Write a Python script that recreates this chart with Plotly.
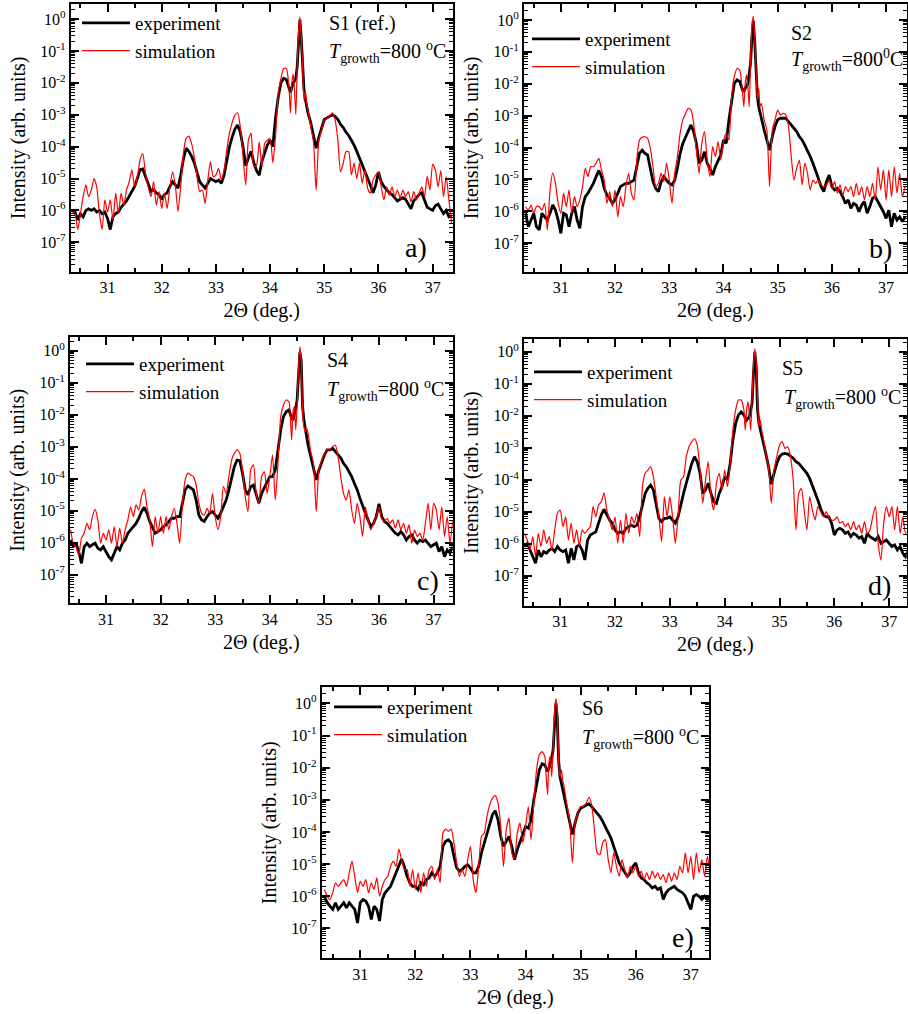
import plotly.graph_objects as go

# 2-theta grid (deg.), shared by all panels
X = [30.35, 30.40, 30.45, 30.50, 30.55, 30.60, 30.65, 30.70, 30.75, 30.80,
     30.85, 30.90, 30.95, 31.00, 31.05, 31.10, 31.15, 31.20, 31.25, 31.30,
     31.35, 31.40, 31.45, 31.50, 31.55, 31.60, 31.65, 31.70, 31.75, 31.80,
     31.85, 31.90, 31.95, 32.00, 32.05, 32.10, 32.15, 32.20, 32.25, 32.30,
     32.35, 32.40, 32.45, 32.50, 32.55, 32.60, 32.65, 32.70, 32.75, 32.80,
     32.85, 32.90, 32.95, 33.00, 33.05, 33.10, 33.15, 33.20, 33.25, 33.30,
     33.35, 33.40, 33.45, 33.50, 33.55, 33.60, 33.65, 33.70, 33.75, 33.80,
     33.85, 33.90, 33.95, 34.00, 34.05, 34.10, 34.15, 34.20, 34.25, 34.30,
     34.35, 34.375, 34.40, 34.425, 34.45, 34.475, 34.50, 34.525, 34.55, 34.575, 34.60, 34.625, 34.65, 34.675,
     34.70, 34.75, 34.80, 34.85, 34.90, 34.95, 35.00, 35.05, 35.10, 35.15,
     35.20, 35.25, 35.30, 35.35, 35.40, 35.45, 35.50, 35.55, 35.60, 35.65,
     35.70, 35.75, 35.80, 35.85, 35.90, 35.95, 36.00, 36.05, 36.10, 36.15,
     36.20, 36.25, 36.30, 36.35, 36.40, 36.45, 36.50, 36.55, 36.60, 36.65,
     36.70, 36.75, 36.80, 36.85, 36.90, 36.95, 37.00, 37.05, 37.10, 37.15,
     37.20, 37.25, 37.30, 37.35]

# log10(intensity)
S1_EXP = [-6.0, -6.05, -6.3, -6.1, -6.2, -6.0, -5.95, -6.0, -5.95, -6.05,
          -6.0, -6.1, -6.05, -6.25, -6.6, -6.2, -6.1, -6.05, -5.9, -5.8,
          -5.7, -5.55, -5.4, -5.25, -5.0, -4.72, -4.7, -4.95, -5.2, -5.4,
          -5.35, -5.45, -5.5, -5.65, -5.5, -5.45, -5.25, -5.1, -5.2, -5.3,
          -4.9, -4.4, -4.05, -4.15, -4.3, -4.5, -4.8, -5.1, -5.2, -5.3,
          -5.15, -5.0, -5.05, -5.1, -5.05, -5.15, -4.9, -4.4, -4.0, -3.7,
          -3.45, -3.32, -3.55, -4.0, -4.6, -4.35, -4.15, -4.5, -4.75, -4.9,
          -4.45, -4.2, -3.95, -3.8, -4.0, -3.1, -2.45, -2.0, -1.86, -1.9,
          -2.2, -2.3, -2.15, -2.0, -1.95, -1.85, -1.5, -0.5, -0.02, -0.6, -1.7, -2.2, -2.5, -2.75,
          -2.95, -3.25, -3.65, -4.05, -3.7, -3.4, -3.15, -3.1, -3.05, -3.0,
          -3.05, -3.15, -3.3, -3.4, -3.55, -3.65, -3.8, -3.95, -4.15, -4.35,
          -4.55, -4.75, -4.95, -5.2, -5.45, -5.2, -4.8, -5.1, -5.25, -5.35,
          -5.45, -5.5, -5.6, -5.7, -5.65, -5.6, -5.65, -5.8, -5.95, -5.7,
          -5.6, -5.5, -5.45, -5.7, -5.9, -5.95, -6.0, -5.85, -5.8, -5.95,
          -6.1, -6.0, -6.2, -6.15]
S1_SIM = [-6.0, -6.1, -6.6, -6.1, -5.57, -5.2, -5.57, -5.36, -5.0, -5.26,
          -6.1, -6.6, -5.67, -6.05, -5.67, -6.3, -5.46, -6.1, -5.46, -5.83,
          -5.36, -5.1, -4.73, -5.26, -4.94, -4.42, -4.21, -4.84, -5.26, -5.57,
          -5.1, -5.83, -5.41, -5.94, -5.46, -5.94, -5.26, -4.79, -5.2, -6.04,
          -5.26, -4.21, -3.74, -3.67, -3.9, -4.32, -4.94, -5.41, -5.36, -5.78,
          -5.05, -4.47, -4.94, -4.89, -4.68, -5.05, -4.73, -4.11, -3.58, -3.25,
          -3.01, -2.94, -3.38, -4.32, -5.2, -3.79, -3.58, -4.63, -4.58, -3.85,
          -4.63, -3.9, -3.79, -3.75, -4.5, -3.7, -2.33, -1.86, -1.55, -1.55,
          -2.17, -2.95, -2.02, -1.72, -2.23, -3.0, -1.5, -0.4, 0.07, -0.55, -1.5, -2.54, -2.25, -2.64,
          -2.85, -3.38, -3.85, -5.36, -3.79, -3.48, -3.19, -3.11, -3.04, -2.94,
          -3.17, -3.79, -4.79, -4.52, -4.16, -4.16, -4.89, -4.52, -5.0, -4.52,
          -5.15, -4.73, -5.31, -5.46, -5.05, -4.89, -4.79, -5.26, -5.67, -5.26,
          -5.52, -5.26, -5.57, -5.36, -5.62, -5.36, -5.57, -5.41, -5.73, -5.41,
          -5.67, -5.46, -5.26, -5.57, -4.92, -5.36, -4.55, -4.73, -5.26, -4.75,
          -5.57, -4.94, -5.67, -6.4]

S2_EXP = [-6.06, -6.48, -6.27, -6.06, -6.48, -6.58, -6.06, -6.17, -6.27, -6.06,
          -5.80, -5.96, -6.27, -6.69, -6.06, -6.11, -6.48, -6.06, -5.85, -6.27,
          -6.53, -5.85, -5.54, -5.43, -5.28, -5.12, -4.91, -4.72, -4.91, -5.28,
          -5.49, -5.59, -5.75, -5.64, -5.43, -5.22, -5.17, -5.12, -5.12, -5.07,
          -5.02, -4.60, -4.18, -4.08, -4.18, -4.23, -4.60, -5.07, -5.28, -5.38,
          -5.07, -4.91, -5.02, -5.12, -5.17, -5.02, -4.65, -4.18, -3.87, -3.66,
          -3.45, -3.29, -3.50, -3.87, -4.49, -4.39, -4.13, -4.49, -4.65, -4.86,
          -4.60, -4.39, -4.23, -3.76, -3.87, -3.13, -2.51, -1.99, -1.88, -1.93,
          -2.19, -2.25, -2.14, -2.09, -1.99, -1.67, -1.36, -0.52, -0.02, -0.63, -1.78, -2.40, -2.72, -2.93,
          -3.13, -3.45, -3.76, -4.08, -3.66, -3.34, -3.13, -3.08, -3.08, -3.08,
          -3.19, -3.29, -3.40, -3.50, -3.66, -3.76, -3.92, -4.08, -4.28, -4.49,
          -4.70, -4.96, -5.22, -5.38, -5.07, -4.86, -5.22, -5.33, -5.28, -5.38,
          -5.54, -5.75, -5.64, -5.90, -5.75, -5.80, -6.01, -5.80, -5.69, -6.06,
          -5.85, -5.59, -5.54, -5.69, -5.85, -6.01, -6.22, -5.96, -6.48, -6.06,
          -6.27, -6.17, -6.32, -6.17]
S2_SIM = [-5.85, -5.96, -5.80, -6.06, -5.85, -5.85, -5.96, -5.75, -6.58, -5.33,
          -4.79, -5.12, -5.75, -6.06, -5.43, -5.85, -5.33, -6.06, -5.54, -5.85,
          -5.64, -5.22, -4.65, -4.91, -4.60, -4.60, -4.49, -4.34, -4.70, -5.02,
          -5.75, -5.38, -5.85, -5.33, -6.17, -5.54, -5.85, -5.22, -4.81, -5.43,
          -5.64, -4.39, -3.76, -3.68, -3.66, -3.71, -4.02, -4.60, -5.22, -5.12,
          -4.81, -5.07, -4.49, -5.02, -5.75, -4.81, -4.28, -3.55, -3.13, -2.93,
          -2.77, -2.82, -3.24, -4.08, -4.81, -3.87, -3.50, -4.39, -4.91, -3.97,
          -4.28, -3.81, -4.39, -3.81, -3.55, -3.76, -2.40, -1.78, -1.52, -1.57,
          -2.25, -2.72, -1.99, -1.72, -2.09, -2.72, -1.25, -0.21, 0.12, -0.52, -1.57, -2.51, -2.14, -2.72,
          -2.61, -3.13, -3.45, -5.22, -3.45, -3.13, -2.82, -2.98, -2.93, -2.98,
          -3.34, -4.28, -5.02, -4.65, -4.39, -5.17, -4.49, -4.81, -5.33, -5.02,
          -5.12, -5.02, -5.17, -5.22, -5.17, -5.02, -5.28, -5.07, -5.43, -5.17,
          -5.49, -5.22, -5.38, -5.22, -5.54, -5.12, -5.49, -5.22, -5.64, -5.22,
          -5.54, -5.12, -5.64, -4.60, -5.33, -4.70, -5.64, -4.70, -5.54, -4.60,
          -5.43, -4.81, -5.54, -5.22]

S4_EXP = [-5.92, -6.13, -6.02, -6.28, -6.65, -6.13, -6.02, -6.13, -6.07, -6.02,
          -6.18, -6.23, -6.13, -6.28, -6.44, -6.54, -6.33, -6.13, -6.23, -6.02,
          -5.92, -5.71, -5.60, -5.50, -5.40, -5.24, -5.03, -4.90, -5.08, -5.34,
          -5.50, -5.71, -5.66, -5.60, -5.50, -5.45, -5.34, -5.24, -5.24, -5.19,
          -5.19, -4.77, -4.35, -4.23, -4.30, -4.35, -4.67, -5.14, -5.29, -5.34,
          -5.19, -5.08, -5.03, -5.14, -5.24, -5.08, -4.88, -4.67, -4.35, -3.94,
          -3.63, -3.42, -3.44, -3.83, -4.35, -4.51, -4.25, -4.20, -4.46, -4.77,
          -4.46, -4.30, -4.09, -3.94, -3.94, -3.73, -3.10, -2.48, -2.06, -1.91,
          -1.85, -2.01, -2.11, -2.17, -2.01, -1.80, -1.54, -0.92, -0.05, -0.30, -1.75, -2.17, -2.48, -2.69,
          -2.95, -3.31, -3.63, -4.04, -3.73, -3.47, -3.26, -3.10, -3.10, -3.05,
          -3.16, -3.26, -3.36, -3.52, -3.63, -3.78, -3.94, -4.15, -4.35, -4.61,
          -4.88, -5.08, -5.29, -5.50, -5.40, -5.19, -4.79, -5.19, -5.34, -5.40,
          -5.50, -5.60, -5.71, -5.76, -5.66, -5.76, -5.92, -5.81, -5.76, -5.92,
          -6.02, -5.92, -5.97, -5.92, -6.02, -6.13, -6.07, -6.02, -6.28, -6.13,
          -6.44, -6.23, -6.33, -6.13]
S4_SIM = [-5.60, -6.02, -6.13, -6.39, -5.86, -5.71, -5.40, -5.60, -5.19, -4.96,
          -5.29, -6.02, -5.71, -5.92, -5.60, -6.02, -5.50, -6.13, -5.55, -6.02,
          -5.60, -5.29, -4.88, -5.19, -4.82, -4.98, -4.56, -4.33, -4.88, -5.29,
          -6.13, -5.19, -5.71, -5.19, -5.71, -5.19, -5.60, -5.19, -4.93, -5.40,
          -6.02, -4.77, -4.04, -3.83, -3.89, -3.94, -4.20, -4.77, -5.08, -5.14,
          -4.93, -5.08, -4.46, -5.19, -5.60, -5.19, -4.25, -4.46, -3.94, -3.42,
          -3.21, -3.10, -3.21, -3.73, -4.56, -5.03, -3.73, -3.57, -4.46, -4.77,
          -3.94, -3.78, -4.46, -3.94, -3.26, -4.67, -3.52, -2.06, -1.70, -1.54,
          -1.59, -2.06, -2.79, -1.91, -1.75, -2.48, -1.75, -0.60, 0.12, -0.29, -1.85, -2.38, -2.53, -2.43,
          -2.58, -3.16, -3.52, -5.03, -3.73, -3.42, -3.21, -3.10, -3.10, -3.00,
          -2.95, -3.31, -3.94, -4.46, -4.67, -4.35, -4.98, -5.40, -4.77, -5.19,
          -5.81, -4.88, -5.29, -5.60, -5.40, -5.19, -4.88, -5.24, -5.34, -5.24,
          -5.40, -5.29, -5.55, -5.29, -5.60, -5.40, -5.71, -5.45, -6.02, -5.60,
          -5.81, -5.71, -5.92, -5.40, -4.77, -5.60, -4.77, -4.98, -5.60, -4.88,
          -5.81, -5.19, -6.02, -5.29]

S5_EXP = [-6.09, -5.99, -6.20, -6.41, -6.61, -6.20, -6.41, -6.25, -6.30, -6.20,
          -6.15, -6.25, -6.09, -6.20, -6.25, -6.20, -6.61, -6.15, -6.51, -6.09,
          -6.04, -6.20, -6.51, -5.89, -5.73, -5.68, -5.63, -5.36, -5.10, -4.93,
          -5.10, -5.26, -5.36, -5.57, -5.68, -5.63, -5.68, -5.52, -5.47, -5.42,
          -5.47, -5.42, -5.16, -4.84, -4.43, -4.27, -4.17, -4.32, -4.74, -5.21,
          -5.31, -5.21, -5.21, -5.16, -5.26, -5.36, -5.16, -4.74, -4.43, -4.11,
          -3.80, -3.49, -3.28, -3.44, -3.80, -4.43, -4.32, -4.11, -4.43, -4.69,
          -4.74, -4.43, -4.22, -3.91, -4.01, -3.49, -2.76, -2.24, -1.98, -1.88,
          -1.98, -2.08, -2.14, -2.08, -2.03, -1.82, -1.61, -0.68, 0.0, -0.47, -1.82, -2.24, -2.45, -2.66,
          -2.86, -3.18, -3.59, -4.14, -3.80, -3.49, -3.28, -3.20, -3.18, -3.20,
          -3.26, -3.33, -3.44, -3.49, -3.59, -3.70, -3.80, -3.96, -4.17, -4.38,
          -4.64, -4.90, -5.10, -5.16, -5.16, -5.36, -5.73, -5.57, -5.52, -5.57,
          -5.68, -5.63, -5.78, -5.68, -5.73, -5.83, -5.78, -5.99, -5.68, -5.78,
          -5.83, -5.89, -5.78, -5.99, -5.94, -5.89, -5.99, -6.09, -6.04, -6.20,
          -6.09, -6.30, -6.41, -6.20]
S5_SIM = [-5.68, -5.89, -6.20, -5.78, -6.41, -5.68, -6.09, -5.57, -5.99, -5.78,
          -6.20, -5.57, -5.05, -4.95, -5.47, -5.16, -5.89, -5.36, -5.99, -5.57,
          -6.09, -5.57, -5.68, -5.57, -5.47, -4.84, -5.16, -4.79, -4.69, -4.41,
          -4.95, -5.26, -5.57, -5.16, -5.99, -5.26, -5.99, -5.05, -5.68, -5.16,
          -5.36, -5.05, -5.78, -4.22, -3.80, -3.70, -3.59, -3.91, -4.53, -5.16,
          -5.94, -4.53, -5.16, -4.53, -5.16, -5.99, -5.16, -4.01, -3.91, -3.28,
          -2.97, -2.81, -2.72, -2.92, -3.70, -4.74, -4.01, -3.44, -4.53, -4.95,
          -4.11, -3.80, -4.32, -3.70, -4.22, -3.49, -2.45, -1.82, -1.51, -1.51,
          -1.82, -2.45, -1.82, -1.56, -1.93, -2.45, -1.41, -0.47, 0.10, -0.36, -1.51, -2.34, -2.14, -2.45,
          -2.66, -3.18, -3.59, -4.74, -3.70, -3.28, -2.92, -2.81, -3.02, -2.97,
          -3.28, -4.01, -5.57, -4.43, -4.27, -4.95, -5.57, -4.53, -4.95, -5.26,
          -4.84, -5.00, -5.16, -5.00, -5.16, -5.26, -5.26, -5.16, -5.36, -5.31,
          -5.47, -5.36, -5.57, -5.31, -5.57, -5.42, -5.68, -5.31, -5.68, -5.57,
          -5.16, -4.84, -5.99, -6.51, -5.36, -4.84, -5.16, -4.84, -5.57, -4.84,
          -5.68, -5.16, -5.68, -5.57]

S6_EXP = [-6.00, -6.20, -6.31, -6.41, -6.20, -6.41, -6.31, -6.20, -6.36, -6.20,
          -6.31, -6.41, -6.83, -6.20, -6.10, -6.15, -6.31, -6.72, -6.31, -6.41,
          -6.77, -6.10, -5.89, -5.79, -5.69, -5.48, -5.27, -5.07, -4.84, -5.07,
          -5.38, -5.58, -5.69, -5.69, -5.79, -5.58, -5.64, -5.48, -5.43, -5.27,
          -5.38, -5.27, -5.07, -4.45, -4.29, -4.24, -4.34, -4.76, -5.12, -5.22,
          -5.17, -5.07, -5.02, -5.12, -5.27, -5.27, -5.07, -4.65, -4.34, -4.03,
          -3.72, -3.46, -3.34, -3.62, -4.14, -4.45, -4.29, -4.14, -4.45, -4.86,
          -4.55, -4.29, -4.08, -3.83, -3.88, -3.62, -3.00, -2.48, -2.07, -1.88,
          -1.91, -2.02, -2.12, -2.02, -1.86, -1.71, -1.45, -0.72, 0.0, -0.41, -1.76, -2.28, -2.48, -2.69,
          -2.90, -3.21, -3.62, -4.08, -3.72, -3.41, -3.26, -3.21, -3.15, -3.12,
          -3.21, -3.31, -3.41, -3.52, -3.67, -3.83, -4.03, -4.19, -4.45, -4.71,
          -4.96, -5.12, -5.27, -5.38, -5.27, -5.07, -4.96, -5.27, -5.43, -5.48,
          -5.58, -5.64, -5.74, -5.69, -5.79, -5.74, -6.10, -5.89, -5.79, -5.74,
          -5.69, -5.79, -5.84, -5.89, -6.00, -6.20, -6.41, -6.00, -5.95, -6.00,
          -6.10, -6.00, -6.10, -6.05]
S6_SIM = [-5.79, -6.00, -6.10, -5.89, -5.58, -5.69, -5.58, -5.48, -5.69, -5.27,
          -4.91, -5.38, -5.89, -5.53, -5.69, -5.48, -5.89, -5.58, -5.79, -5.43,
          -6.00, -5.69, -5.48, -5.38, -5.07, -4.91, -5.07, -4.53, -4.86, -5.17,
          -5.17, -5.69, -5.17, -5.79, -5.27, -5.89, -5.27, -5.69, -5.17, -5.07,
          -5.48, -5.17, -5.58, -4.03, -3.91, -3.98, -3.91, -4.34, -4.96, -5.38,
          -5.17, -5.38, -4.86, -4.45, -5.48, -5.89, -5.07, -4.14, -4.03, -3.52,
          -3.15, -2.95, -2.87, -3.10, -3.83, -5.07, -3.93, -3.57, -4.65, -4.86,
          -4.03, -3.72, -4.34, -3.83, -3.21, -4.24, -3.10, -2.07, -1.60, -1.50,
          -1.65, -2.28, -2.84, -1.81, -1.65, -2.28, -1.45, -0.31, 0.15, -0.21, -1.76, -2.28, -2.07, -2.38,
          -2.59, -3.15, -3.62, -4.96, -3.72, -3.41, -3.21, -3.21, -3.10, -2.92,
          -3.15, -3.93, -4.65, -4.71, -4.34, -4.24, -4.86, -5.27, -4.65, -5.07,
          -5.38, -4.86, -5.17, -5.43, -5.07, -5.27, -5.07, -5.38, -5.22, -5.48,
          -5.27, -5.48, -5.22, -5.43, -5.27, -5.48, -5.33, -5.58, -5.27, -5.53,
          -5.27, -5.48, -5.07, -5.27, -4.65, -5.27, -4.76, -5.48, -4.65, -5.27,
          -4.86, -5.38, -4.76, -5.27]

SAMPLES = ["S1 (ref.)", "S2", "S4", "S5", "S6"]
TEMPS = ["=800 <sup>o</sup>C", "=800<sup>0</sup>C", "=800 <sup>o</sup>C",
         "=800 <sup>o</sup>C", "=800 <sup>o</sup>C"]
LETTERS = ["a)", "b)", "c)", "d)", "e)"]
EXP = [S1_EXP, S2_EXP, S4_EXP, S5_EXP, S6_EXP]
SIM = [S1_SIM, S2_SIM, S4_SIM, S5_SIM, S6_SIM]
XTICKS = [31, 32, 33, 34, 35, 36, 37]
YTICK_EXP = [0, -1, -2, -3, -4, -5, -6, -7]

for arr in EXP + SIM:
    assert len(arr) == len(X), len(arr)

W, H = 908, 1014
# panel boxes in pixels: left, right, top, bottom
BOX = [(70.7, 452.7, 4.0, 271.7),
       (524.0, 906.7, 4.0, 271.7),
       (70.0, 452.7, 337.3, 603.3),
       (524.0, 906.7, 339.3, 606.0),
       (321.7, 709.0, 687.3, 958.3)]
XR = [[30.32, 37.37], [30.32, 37.38], [30.34, 37.35], [30.34, 37.32], [30.30, 37.33]]
YR = [[-7.92, 0.47], [-7.89, 0.50], [-7.90, 0.42], [-7.95, 0.39], [-7.93, 0.50]]
# legend text start (px) and first row centre (px)
LEG = [(138, 23), (588, 39), (142, 364), (590, 372), (390, 707)]
# annotation anchors (left x, centre y) in px
SPOS = [(327, 23), (789, 33), (325, 360), (780, 368), (580, 708)]
TPOS = [(327, 52), (789, 60), (325, 390), (782, 398), (580, 738)]
LPOS = [(403, 247), (867, 248), (415, 580), (866, 585), (670, 937)]

FONT = "Liberation Serif"

fig = go.Figure()
minor_y = [m * 10.0 ** k for k in range(-8, 1) for m in range(2, 10)]

annotations = []
for i in range(5):
    n = "" if i == 0 else str(i + 1)
    leg = "legend" + n
    xa = "x" + n
    ya = "y" + n
    fig.add_trace(go.Scatter(
        x=X, y=[10 ** v for v in EXP[i]], mode="lines", name="experiment",
        line=dict(color="black", width=2.8), xaxis=xa, yaxis=ya, legend=leg))
    fig.add_trace(go.Scatter(
        x=X, y=[10 ** v for v in SIM[i]], mode="lines", name="simulation",
        line=dict(color="#ff0000", width=1.2, shape="spline", smoothing=0.6),
        xaxis=xa, yaxis=ya, legend=leg))

    l, r, t, b = BOX[i]
    axis_common = dict(showline=True, linewidth=2, linecolor="black", mirror="allticks",
                       ticks="inside", ticklen=8, tickwidth=1.6, tickcolor="black",
                       showgrid=False, zeroline=False, automargin=False,
                       tickfont=dict(family=FONT, size=16, color="black"))
    fig.layout["xaxis" + n] = dict(
        domain=[l / W, r / W], range=XR[i], anchor=ya,
        tickmode="array", tickvals=XTICKS, ticktext=[str(v) for v in XTICKS],
        minor=dict(tickmode="linear", tick0=30.5, dtick=1, ticks="inside",
                   ticklen=4, tickwidth=1.6, tickcolor="black"),
        title=dict(text="2\u0398 (deg.)", font=dict(family=FONT, size=20, color="black"),
                   standoff=8),
        **axis_common)
    fig.layout["yaxis" + n] = dict(
        domain=[1 - b / H, 1 - t / H], range=YR[i], type="log", anchor=xa,
        tickmode="array", tickvals=[10.0 ** e for e in YTICK_EXP],
        ticktext=["10<sup>%s</sup>" % ("-%d" % -e if e < 0 else "0") for e in YTICK_EXP],
        minor=dict(tickmode="array", tickvals=minor_y, ticks="inside",
                   ticklen=4, tickwidth=1.2, tickcolor="black"),
        title=dict(text="Intensity (arb. units)",
                   font=dict(family=FONT, size=20, color="black"), standoff=9),
        **axis_common)

    lx, ly = LEG[i]
    fig.layout[leg] = dict(
        x=(lx - 61) / W, y=1 - (ly - 19) / H, xanchor="left", yanchor="top",
        bgcolor="rgba(0,0,0,0)", borderwidth=0, itemwidth=48,
        font=dict(family=FONT, size=19, color="black"), tracegroupgap=0,
        itemclick=False, itemdoubleclick=False)

    sx, sy = SPOS[i]
    annotations.append(dict(x=sx / W, y=1 - sy / H, xref="paper", yref="paper",
                            text=SAMPLES[i], showarrow=False, xanchor="left", yanchor="middle",
                            font=dict(family=FONT, size=20, color="black")))
    tx, ty = TPOS[i]
    annotations.append(dict(x=tx / W, y=1 - ty / H, xref="paper", yref="paper",
                            text="<i>T</i><sub>growth</sub>" + TEMPS[i], showarrow=False,
                            xanchor="left", yanchor="middle",
                            font=dict(family=FONT, size=20, color="black")))
    px, py = LPOS[i]
    annotations.append(dict(x=px / W, y=1 - py / H, xref="paper", yref="paper",
                            text=LETTERS[i], showarrow=False, xanchor="left", yanchor="middle",
                            font=dict(family=FONT, size=28, color="black")))

fig.update_layout(width=W, height=H, margin=dict(l=0, r=0, t=0, b=0, autoexpand=False),
                  paper_bgcolor="white", plot_bgcolor="white",
                  font=dict(family=FONT, color="black"),
                  annotations=annotations, showlegend=True)
fig.write_html("out.html", config={"displayModeBar": False},
               post_script="document.body.style.margin='0';document.body.style.overflow='hidden';")
